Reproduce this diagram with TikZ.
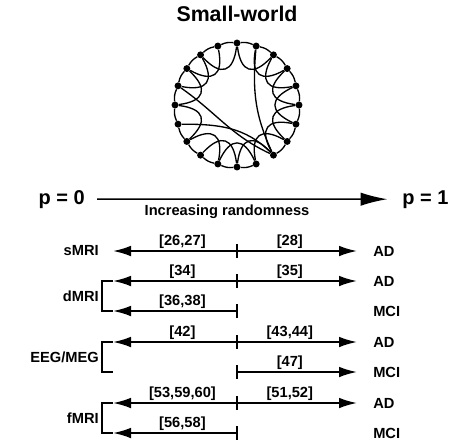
\documentclass[tikz,border=0pt]{standalone}
\usepackage{fontspec}
\setmainfont{Liberation Sans}
\usetikzlibrary{arrows.meta,calc}

\begin{document}
\begin{tikzpicture}
    [x=0.75pt, y=0.75pt,
    font=\bfseries\fontsize{11}{13}\selectfont,
    dot/.style={circle, fill=black, inner sep=0pt, minimum size=5.2pt},
    ring/.style={line width=1pt},
    bigarr/.style={line width=1.1pt, -{Latex[length=20pt, width=10pt]}},
    arr/.style={line width=1.4pt, -{Latex[length=13.5pt, width=8pt]}},
    brk/.style={line width=1.4pt},
    tickline/.style={line width=1.1pt},
    ref/.style={above, inner sep=1pt, pos=0.44},
    big/.style={font=\bfseries\fontsize{15}{17}\selectfont, inner sep=0pt},
    side/.style={anchor=east, inner sep=0pt},
    grp/.style={anchor=west, inner sep=0pt}]
    \useasboundingbox (0,0) rectangle (473,-440);

        %% Small-world graph
        \node (title) at (237,-14) {\fontsize{16}{18}\selectfont Small-world};
        \begin{scope}[shift={(237,-105)}]
            \foreach \i in {0,...,19}
                \node[dot] (n\i) at (\i*18:62) {};
        \end{scope}
        \foreach \i in {0,...,19}{
            \pgfmathtruncatemacro{\j}{mod(\i+1,20)}
            \ifnum\i=16\else \draw[ring] (n\i) to[bend right=15] (n\j); \fi
        }
        \foreach \i in {0,1,2,3,5,6,7,8,10,12,13,14,15,16,17,18,19}{
            \pgfmathtruncatemacro{\k}{mod(\i+2,20)}
            \draw[ring] (n\i) to[bend left=65, looseness=1.9] (n\k);
        }
        \draw[ring] (n4) to[out=-95, in=115] (n17);
        \draw[ring] (n9) to[out=-35, in=155] (n17);
        \draw[ring] (n11) to[out=0, in=135] (n17);

        %% p axis
        \node[big, anchor=base east] (p0) at (85,-204) {p = 0};
        \node[big, anchor=base west] (p1) at (402,-204) {p = 1};
        \draw[bigarr, shorten <=9pt, shorten >=11pt] (p0) -- (p1);
        \node (rand) at (227,-212) {Increasing randomness};

        %% sMRI
        \node[side] (smri) at (99,-251) {sMRI};
        \node[grp] (smri-ad) at (373,-251) {AD};
        \coordinate (s0) at (237,-251);
        \coordinate (sl) at (113,-251);
        \coordinate (sr) at (357,-251);
        \draw[arr] (s0) -- node[ref] {[26,27]} (sl);
        \draw[arr] (s0) -- node[ref] {[28]} (sr);
        \draw[tickline] ([yshift=5pt]s0) -- ([yshift=-5pt]s0);

        %% dMRI
        \node[side] (dmri) at (99,-296) {dMRI};
        \node[grp] (dmri-ad) at (373,-281) {AD};
        \node[grp] (dmri-mci) at (373,-311) {MCI};
        \coordinate (d0) at (237,-281);
        \coordinate (dl) at (113,-281);
        \coordinate (dr) at (357,-281);
        \coordinate (d1) at (237,-311);
        \coordinate (dl2) at (113,-311);
        \draw[arr] (d0) -- node[ref] {[34]} (dl);
        \draw[arr] (d0) -- node[ref] {[35]} (dr);
        \draw[arr] (d1) -- node[ref] {[36,38]} (dl2);
        \draw[brk] (dl) -- ++(-11,0) |- (dl2);
        \draw[tickline] ([yshift=5pt]d0) -- ([yshift=-5pt]d0);
        \draw[tickline] ([yshift=5pt]d1) -- ([yshift=-5pt]d1);

        %% EEG/MEG
        \node[side] (eeg) at (99,-357) {EEG/MEG};
        \node[grp] (eeg-ad) at (373,-342) {AD};
        \node[grp] (eeg-mci) at (373,-372) {MCI};
        \coordinate (e0) at (237,-342);
        \coordinate (el) at (113,-342);
        \coordinate (er) at (357,-342);
        \coordinate (e1) at (237,-372);
        \coordinate (el2) at (113,-372);
        \coordinate (er2) at (357,-372);
        \draw[arr] (e0) -- node[ref] {[42]} (el);
        \draw[arr] (e0) -- node[ref] {[43,44]} (er);
        \draw[arr] (e1) -- node[ref] {[47]} (er2);
        \draw[brk] (el) -- ++(-11,0) |- (el2);
        \draw[tickline] ([yshift=5pt]e0) -- ([yshift=-5pt]e0);
        \draw[tickline] ([yshift=5pt]e1) -- ([yshift=-5pt]e1);

        %% fMRI
        \node[side] (fmri) at (99,-418) {fMRI};
        \node[grp] (fmri-ad) at (373,-403) {AD};
        \node[grp] (fmri-mci) at (373,-433) {MCI};
        \coordinate (f0) at (237,-403);
        \coordinate (fl) at (113,-403);
        \coordinate (fr) at (357,-403);
        \coordinate (f1) at (237,-433);
        \coordinate (fl2) at (113,-433);
        \draw[arr] (f0) -- node[ref] {[53,59,60]} (fl);
        \draw[arr] (f0) -- node[ref] {[51,52]} (fr);
        \draw[arr] (f1) -- node[ref] {[56,58]} (fl2);
        \draw[brk] (fl) -- ++(-11,0) |- (fl2);
        \draw[tickline] ([yshift=5pt]f0) -- ([yshift=-5pt]f0);
        \draw[tickline] ([yshift=5pt]f1) -- ([yshift=-5pt]f1);
    \end{tikzpicture}
\end{document}
